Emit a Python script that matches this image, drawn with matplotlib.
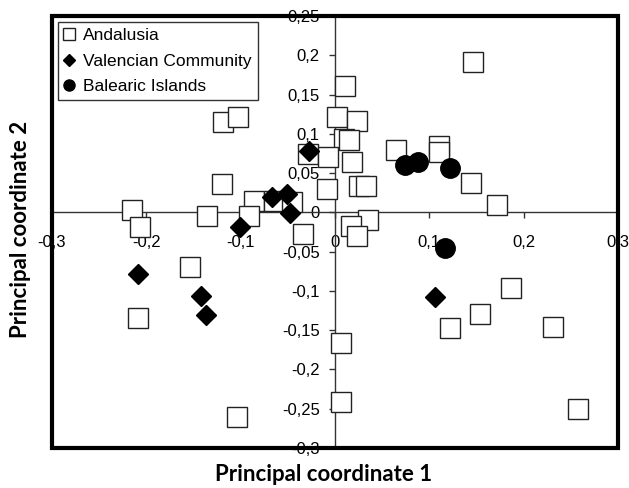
import matplotlib
matplotlib.use("Agg")
import matplotlib.pyplot as plt
from matplotlib.lines import Line2D
from matplotlib.patches import Rectangle
from matplotlib.ticker import FuncFormatter, MultipleLocator

# principal coordinates
and_x = [-0.119, -0.103, -0.120, -0.215, -0.207, -0.136, -0.086, -0.091, -0.065, -0.046,
         -0.034, -0.029, 0.146, 0.011, 0.002, 0.023, 0.010, 0.015, -0.007, 0.018,
         -0.008, 0.025, 0.033, 0.065, 0.110, 0.110, 0.144, 0.172, 0.035, 0.017,
         0.023, 0.006, 0.006, 0.122, 0.154, 0.187, 0.231, 0.258, -0.154, -0.209, -0.104]
and_y = [0.115, 0.121, 0.036, 0.003, -0.018, -0.004, 0.015, -0.004, 0.014, 0.013,
         -0.027, 0.074, 0.192, 0.161, 0.122, 0.116, 0.094, 0.092, 0.070, 0.064,
         0.030, 0.033, 0.033, 0.080, 0.084, 0.077, 0.037, 0.009, -0.010, -0.017,
         -0.030, -0.166, -0.241, -0.147, -0.129, -0.096, -0.146, -0.250, -0.069, -0.134, -0.260]
val_x = [-0.028, -0.067, -0.051, -0.048, -0.101, -0.209, -0.142, -0.137, 0.106]
val_y = [0.078, 0.020, 0.024, -0.001, -0.018, -0.078, -0.107, -0.131, -0.108]
bal_x = [0.074, 0.088, 0.122, 0.117]
bal_y = [0.060, 0.064, 0.056, -0.046]

plt.rcParams["font.family"] = ["Liberation Sans", "DejaVu Sans"]

fig = plt.figure(figsize=(6.29, 4.88), dpi=100)
ax = fig.add_axes([52 / 629, 1 - 448 / 488, 566 / 629, 432 / 488])

ax.plot(and_x, and_y, ls="none", marker="s", ms=14, mfc="white", mec="#222222",
        mew=1.0, zorder=3)
ax.plot(val_x, val_y, ls="none", marker="D", ms=10, mfc="black", mec="black", zorder=4)
ax.plot(bal_x, bal_y, ls="none", marker="o", ms=14, mfc="black", mec="black", zorder=5)

ax.set_xlim(-0.3, 0.3)
ax.set_ylim(-0.3, 0.25)

# axes cross at the origin, thick frame around the plot area
for s in ["top", "right"]:
    ax.spines[s].set_visible(False)
ax.spines["left"].set_position(("data", 0))
ax.spines["bottom"].set_position(("data", 0))
for s in ["left", "bottom"]:
    ax.spines[s].set_linewidth(1.0)
    ax.spines[s].set_color("#333333")
ax.add_patch(Rectangle((0, 0), 1, 1, transform=ax.transAxes, fill=False,
                       lw=3, ec="black", clip_on=False, zorder=6))

comma = FuncFormatter(lambda v, p: f"{round(v, 2):g}".replace(".", ","))
ax.xaxis.set_major_locator(MultipleLocator(0.1))
ax.yaxis.set_major_locator(MultipleLocator(0.05))
ax.xaxis.set_major_formatter(comma)
ax.yaxis.set_major_formatter(comma)
ax.tick_params(axis="x", direction="out", length=4, width=1, color="#333333",
               labelsize=12, pad=12)
ax.tick_params(axis="y", direction="out", length=4, width=1, color="#333333",
               labelsize=12, pad=7)

handles = [
    Line2D([], [], ls="none", marker="s", ms=8, mfc="white", mec="#222222", mew=1.0),
    Line2D([], [], ls="none", marker="D", ms=6, mfc="black", mec="black"),
    Line2D([], [], ls="none", marker="o", ms=8, mfc="black", mec="black"),
]
leg = ax.legend(handles, ["Andalusia", "Valencian Community", "Balearic Islands"],
                loc="upper left", bbox_to_anchor=(6 / 566, 1 - 6 / 432),
                fontsize=12.5, frameon=True, fancybox=False, borderpad=0.35,
                handlelength=0.6, handletextpad=0.5, labelspacing=0.6,
                borderaxespad=0)
leg.get_frame().set_edgecolor("black")
leg.get_frame().set_linewidth(1.0)
leg.set_zorder(7)

fig.text(324 / 629, 1 - 481 / 488, "Principal coordinate 1", ha="center", va="baseline",
         fontsize=16, fontweight="bold", family="Lato")
fig.text(21 / 629, 1 - 229 / 488, "Principal coordinate 2", ha="center", va="center",
         rotation=90, fontsize=16, fontweight="bold", family="Lato")

fig.savefig("out.png", dpi=100)
